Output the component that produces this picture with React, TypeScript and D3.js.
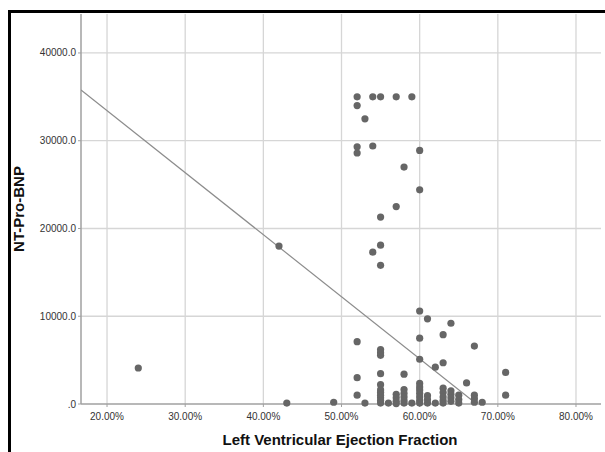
import React from "react";
import * as d3 from "d3";

const efValues: number[] = [
  52, 52, 54, 55, 57, 59, 53, 52, 52, 54, 60, 58, 60, 57, 55, 55, 54, 55, 42, 24, 43, 49,
  60, 61, 64, 63, 60, 52, 67, 55, 55, 55, 60, 63, 62, 71, 52, 55, 58, 66, 55, 60, 60, 63, 64, 52, 71,
  55, 55, 55, 55, 55, 55, 53, 56, 57, 57, 57, 57, 58, 58, 58, 58, 58, 59,
  60, 60, 60, 60, 60, 61, 61, 61, 62, 63, 63, 63, 63, 64, 64, 64, 65, 65, 65, 67, 67, 67, 68,
];
const bnpValues: number[] = [
  35000, 34000, 35000, 35000, 35000, 35000, 32500, 29300, 28600, 29400, 28900, 27000, 24400, 22500, 21300, 18100, 17300, 15800, 18000, 4100, 100, 200,
  10600, 9700, 9200, 7900, 7500, 7100, 6600, 6200, 5850, 5550, 5100, 4700, 4200, 3600, 3000, 3450, 3400, 2400, 2200, 2350, 1950, 1800, 1500, 1000, 1000,
  1600, 1300, 1000, 700, 400, 100, 100, 100, 1100, 700, 300, 50, 1650, 1200, 800, 400, 100, 100,
  1600, 1200, 800, 400, 100, 950, 500, 100, 100, 1300, 800, 400, 100, 1100, 700, 300, 1000, 500, 100, 1000, 600, 200, 200,
];

const xTicks: number[] = [20, 30, 40, 50, 60, 70, 80];
const yTicks: number[] = [0, 10000, 20000, 30000, 40000];
const xDomain: [number, number] = [16.67, 83.2];
const yDomain: [number, number] = [0, 44440];
const fitIntercept = 47570;
const fitSlope = -707;

const xTitle = "Left Ventricular Ejection Fraction";
const yTitle = "NT-Pro-BNP";

export default function App() {
  const W = 605;
  const H = 452;
  const left = 81, right = 601, top = 14, bottom = 404;
  const x = d3.scaleLinear().domain(xDomain).range([left, right]);
  const y = d3.scaleLinear().domain(yDomain).range([bottom, top]);
  const fitEnd = -fitIntercept / fitSlope;
  const fitPts: [number, number][] = [xDomain[0], fitEnd].map((v) => [v, fitIntercept + fitSlope * v]);
  const line = d3.line<[number, number]>().x((d) => x(d[0])).y((d) => y(d[1]));
  const font = "'Liberation Sans', Arial, sans-serif";
  const fmtY = (v: number) => (v === 0 ? ".0" : v.toFixed(1));
  const fmtX = (v: number) => v.toFixed(2) + "%";

  return (
    <svg width={W} height={H} style={{ position: "absolute", left: 0, top: 0, background: "#fff" }} fontFamily={font}>
      <rect x={0} y={0} width={W} height={H} fill="#fff" />
      <rect x={9.5} y={11.5} width={W + 20} height={H + 20} fill="none" stroke="#000" strokeWidth={3} />
      <defs>
        <clipPath id="plotClip">
          <rect x={left} y={top} width={right - left} height={bottom - top} />
        </clipPath>
      </defs>
      {xTicks.map((t) => (
        <line key={"gx" + t} x1={x(t)} x2={x(t)} y1={top} y2={bottom} stroke="#d6d6d6" strokeWidth={1.3} />
      ))}
      {yTicks.filter((t) => t > 0).map((t) => (
        <line key={"gy" + t} x1={left} x2={right} y1={y(t)} y2={y(t)} stroke="#d6d6d6" strokeWidth={1.3} />
      ))}
      <line x1={left} x2={left} y1={top} y2={bottom} stroke="#a0a0a0" strokeWidth={1.5} />
      <line x1={left} x2={right} y1={bottom} y2={bottom} stroke="#a0a0a0" strokeWidth={1.5} />
      {yTicks.map((t) => (
        <g key={"ty" + t}>
          <line x1={left - 3} x2={left} y1={y(t)} y2={y(t)} stroke="#a0a0a0" />
          <text x={left - 5} y={y(t)} dy="0.35em" textAnchor="end" fontSize={10} fill="#333">
            {fmtY(t)}
          </text>
        </g>
      ))}
      {xTicks.map((t) => (
        <g key={"tx" + t}>
          <line x1={x(t)} x2={x(t)} y1={bottom} y2={bottom + 3} stroke="#a0a0a0" />
          <text x={x(t)} y={bottom + 16} textAnchor="middle" fontSize={10} fill="#333">
            {fmtX(t)}
          </text>
        </g>
      ))}
      <g clipPath="url(#plotClip)">
        <path d={line(fitPts) || ""} fill="none" stroke="#8c8c8c" strokeWidth={1.2} />
      </g>
      {efValues.map((v, i) => (
        <circle key={i} cx={x(v)} cy={y(bnpValues[i])} r={3.6} fill="#666" />
      ))}
      <text x={340} y={445} textAnchor="middle" fontSize={15} fontWeight="bold" fill="#111">
        {xTitle}
      </text>
      <text transform={`translate(24,${(top + bottom) / 2}) rotate(-90)`} textAnchor="middle" fontSize={15} fontWeight="bold" fill="#111">
        {yTitle}
      </text>
    </svg>
  );
}
